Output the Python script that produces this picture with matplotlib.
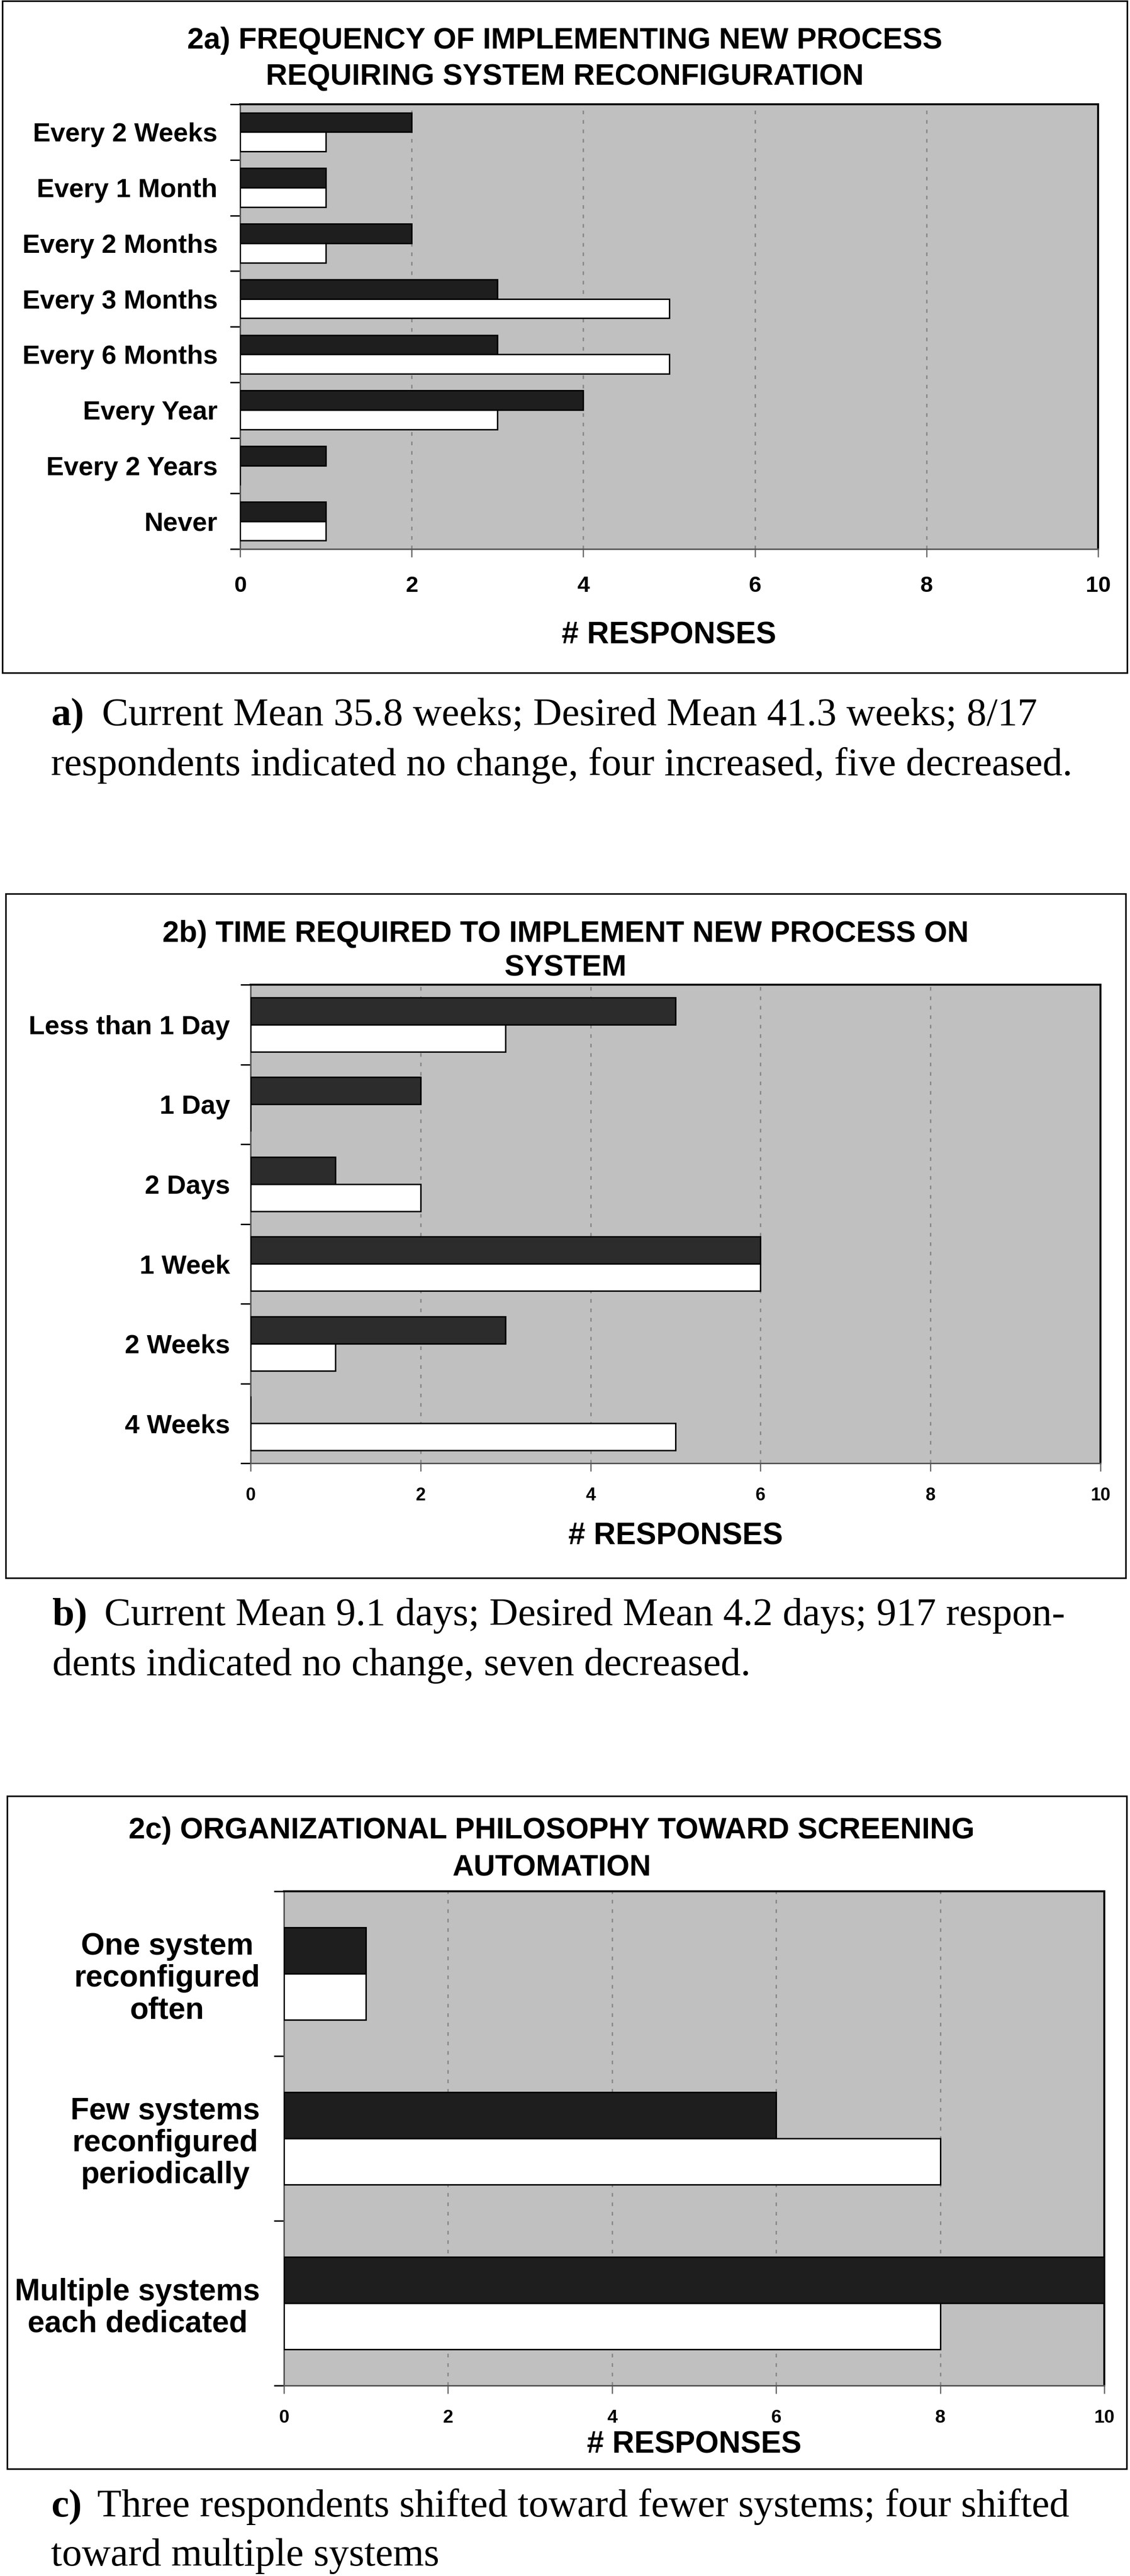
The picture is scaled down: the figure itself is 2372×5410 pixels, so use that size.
import matplotlib.pyplot as plt
from matplotlib.patches import Rectangle
import numpy as np

W, H = 2372, 5410

# 2a) frequency of implementing new process
freq_labels = ["Every 2 Weeks", "Every 1 Month", "Every 2 Months", "Every 3 Months",
               "Every 6 Months", "Every Year", "Every 2 Years", "Never"]
freq_current = [2, 1, 2, 3, 3, 4, 1, 1]
freq_desired = [1, 1, 1, 5, 5, 3, 0, 1]

# 2b) time required to implement
time_labels = ["Less than 1 Day", "1 Day", "2 Days", "1 Week", "2 Weeks", "4 Weeks"]
time_current = [5, 2, 1, 6, 3, 0]
time_desired = [3, 0, 2, 6, 1, 5]

# 2c) organizational philosophy
phil_labels = ["One system\nreconfigured\noften",
               "Few systems\nreconfigured\nperiodically",
               "Multiple systems\neach dedicated"]
phil_current = [1, 6, 10]
phil_desired = [1, 8, 8]

xticks = [0, 2, 4, 6, 8, 10]

SANS = "Liberation Sans"
SERIF = "Liberation Serif"

fig = plt.figure(figsize=(W / 100, H / 100), dpi=100)


def fx(x):
    return x / W


def fy(y):
    return 1 - y / H


def px_axes(left, top, right, bottom):
    return fig.add_axes([fx(left), fy(bottom), (right - left) / W, (bottom - top) / H])


def panel(box, ax_box, labels, current, desired, bar_h, dark, title, title_x, title_y,
          ylab_size, xtick_size, xtick_pad, ylab_pad, xlab_y):
    # outer frame
    l, t, r, b = box
    fig.patches.append(Rectangle((fx(l), fy(b)), (r - l) / W, (b - t) / H,
                                 transform=fig.transFigure, fill=False,
                                 edgecolor="black", linewidth=2.4))
    ax = px_axes(*ax_box)
    n = len(labels)
    y = np.arange(n)
    ax.barh(y - bar_h / 2, current, height=bar_h, color=dark,
            edgecolor="black", linewidth=2.2, zorder=3)
    ax.barh(y + bar_h / 2, desired, height=bar_h, color="white",
            edgecolor="black", linewidth=2.2, zorder=3)
    ax.set_xlim(0, 10)
    ax.set_ylim(n - 0.5, -0.5)
    ax.set_facecolor("#c0c0c0")
    ax.set_axisbelow(True)
    ax.xaxis.grid(True, color="#8a8a8a", linewidth=2.2, linestyle=(0, (2.5, 4)))

    ax.set_xticks(xticks)
    ax.set_xticklabels([str(v) for v in xticks], fontsize=xtick_size,
                       fontweight="bold", family=SANS)
    ax.tick_params(axis="x", length=12, width=1.8, color="#606060", pad=xtick_pad)

    ax.set_yticks(y)
    ax.set_yticklabels(labels, fontsize=ylab_size, fontweight="bold", family=SANS,
                       linespacing=1.15)
    for lab in ax.get_yticklabels():
        lab.set_multialignment("center")
    ax.tick_params(axis="y", length=0, pad=ylab_pad)
    ax.set_yticks(np.arange(n + 1) - 0.5, minor=True)
    ax.tick_params(axis="y", which="minor", length=15, width=2.2, color="black")

    for side in ["top", "right"]:
        ax.spines[side].set_color("black")
        ax.spines[side].set_linewidth(3.0)
    for side in ["left", "bottom"]:
        ax.spines[side].set_color("#555555")
        ax.spines[side].set_linewidth(2.2)

    for line, yy in zip(title, title_y):
        fig.text(fx(title_x), fy(yy), line, ha="center", va="baseline",
                 fontsize=45, fontweight="bold", family=SANS)
    xc = (ax_box[0] + ax_box[2]) / 2
    fig.text(fx(xc), fy(xlab_y), "# RESPONSES", ha="center", va="baseline",
             fontsize=46, fontweight="bold", family=SANS)
    return ax


def caption(tag, first, second, x_tag, x_first, y1, y2):
    fig.text(fx(x_tag), fy(y1), tag, ha="left", va="baseline", fontsize=60,
             fontweight="bold", family=SERIF)
    fig.text(fx(x_first), fy(y1), first, ha="left", va="baseline", fontsize=60,
             family=SERIF)
    fig.text(fx(x_tag), fy(y2), second, ha="left", va="baseline", fontsize=60,
             family=SERIF)


panel((5, 2, 2366, 1413), (504, 219, 2305, 1153),
      freq_labels, freq_current, freq_desired, 0.35, "#1e1e1e",
      ["2a) FREQUENCY OF IMPLEMENTING NEW PROCESS",
       "REQUIRING SYSTEM RECONFIGURATION"], 1186, [102, 178],
      40, 34, 28, 34, 1351)
caption("a)", "Current Mean 35.8 weeks; Desired Mean 41.3 weeks; 8/17",
        "respondents indicated no change, four increased, five decreased.",
        107, 214, 1523, 1628)

panel((12, 1877, 2363, 3314), (526, 2068, 2310, 3073),
      time_labels, time_current, time_desired, 0.34, "#2c2c2c",
      ["2b) TIME REQUIRED TO IMPLEMENT NEW PROCESS ON", "SYSTEM"],
      1187, [1978, 2050], 40, 27, 24, 31, 3244)
caption("b)", "Current Mean 9.1 days; Desired Mean 4.2 days; 917 respon-",
        "dents indicated no change, seven decreased.",
        110, 219, 3413, 3518)

panel((15, 3772, 2365, 5185), (596, 3972, 2318, 5010),
      phil_labels, phil_current, phil_desired, 0.28, "#1e1e1e",
      ["2c) ORGANIZATIONAL PHILOSOPHY TOWARD SCREENING", "AUTOMATION"],
      1158, [3861, 3940], 46, 28, 24, 36, 5152)
caption("c)", "Three respondents shifted toward fewer systems; four shifted",
        "toward multiple systems",
        107, 204, 5285, 5388)

fig.savefig("out.png", dpi=100)
